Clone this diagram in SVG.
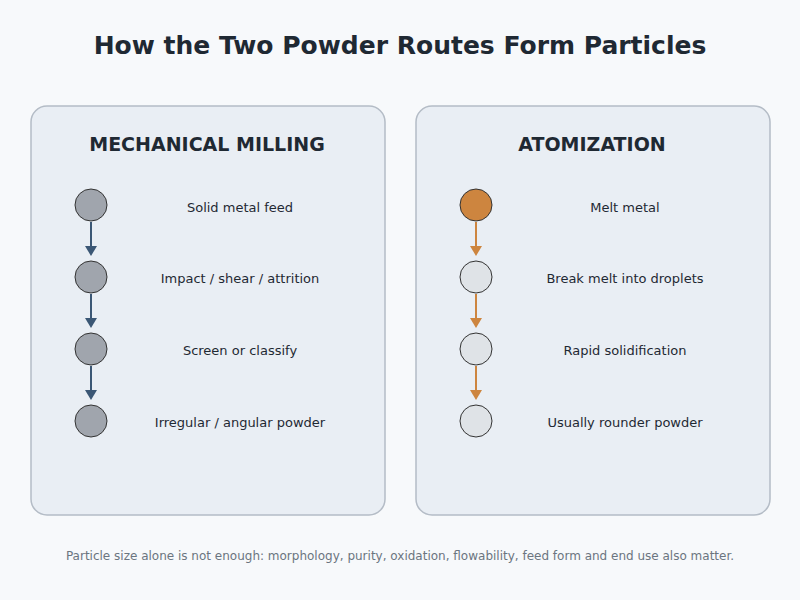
<svg xmlns="http://www.w3.org/2000/svg" width="800" height="600" viewBox="0 0 800 600">
<defs>
<style>
text{font-family:"DejaVu Sans","Noto Sans",sans-serif;fill:#1f2933}
.panel{fill:#e9eef4;stroke:#b4bcc6;stroke-width:1.5}
.h{font-size:19px;font-weight:bold;text-anchor:middle}
.l{font-size:13px;text-anchor:middle}
.g{fill:#a0a5ad;stroke:#333;stroke-width:1}
.w{fill:#dfe3e7;stroke:#333;stroke-width:1}
.o{fill:#cd853f;stroke:#333;stroke-width:1}
.cb{stroke:#3b5775;stroke-width:2}
.co{stroke:#cd853f;stroke-width:2}
</style>
</defs>
<rect width="800" height="600" fill="#f7f9fb"/>
<text x="400" y="54" style="font-size:25px;font-weight:bold;text-anchor:middle">How the Two Powder Routes Form Particles</text>
<g id="panel-milling"><rect class="panel" x="31" y="106" width="354" height="409" rx="16"/><text class="h" x="207" y="151">MECHANICAL MILLING</text></g>
<g id="panel-atom"><rect class="panel" x="416" y="106" width="354" height="409" rx="16"/><text class="h" x="592" y="151">ATOMIZATION</text></g>
<g id="connectors">
<line class="cb" x1="91" y1="222" x2="91" y2="248"/><path d="M85,246 L97,246 L91,256 Z" fill="#3b5775"/>
<line class="cb" x1="91" y1="294" x2="91" y2="320"/><path d="M85,318 L97,318 L91,328 Z" fill="#3b5775"/>
<line class="cb" x1="91" y1="366" x2="91" y2="392"/><path d="M85,390 L97,390 L91,400 Z" fill="#3b5775"/>
<line class="co" x1="476" y1="222" x2="476" y2="248"/><path d="M470,246 L482,246 L476,256 Z" fill="#cd853f"/>
<line class="co" x1="476" y1="294" x2="476" y2="320"/><path d="M470,318 L482,318 L476,328 Z" fill="#cd853f"/>
<line class="co" x1="476" y1="366" x2="476" y2="392"/><path d="M470,390 L482,390 L476,400 Z" fill="#cd853f"/>
</g>
<g id="m1"><circle class="g" cx="91" cy="205" r="16"/><text class="l" x="240" y="212">Solid metal feed</text></g>
<g id="m2"><circle class="g" cx="91" cy="277" r="16"/><text class="l" x="240" y="283">Impact / shear / attrition</text></g>
<g id="m3"><circle class="g" cx="91" cy="349" r="16"/><text class="l" x="240" y="355">Screen or classify</text></g>
<g id="m4"><circle class="g" cx="91" cy="421" r="16"/><text class="l" x="240" y="427">Irregular / angular powder</text></g>
<g id="a1"><circle class="o" cx="476" cy="205" r="16"/><text class="l" x="625" y="212">Melt metal</text></g>
<g id="a2"><circle class="w" cx="476" cy="277" r="16"/><text class="l" x="625" y="283">Break melt into droplets</text></g>
<g id="a3"><circle class="w" cx="476" cy="349" r="16"/><text class="l" x="625" y="355">Rapid solidification</text></g>
<g id="a4"><circle class="w" cx="476" cy="421" r="16"/><text class="l" x="625" y="427">Usually rounder powder</text></g>
<text x="400" y="560" style="font-size:12px;fill:#6b7580;text-anchor:middle">Particle size alone is not enough: morphology, purity, oxidation, flowability, feed form and end use also matter.</text>
</svg>
